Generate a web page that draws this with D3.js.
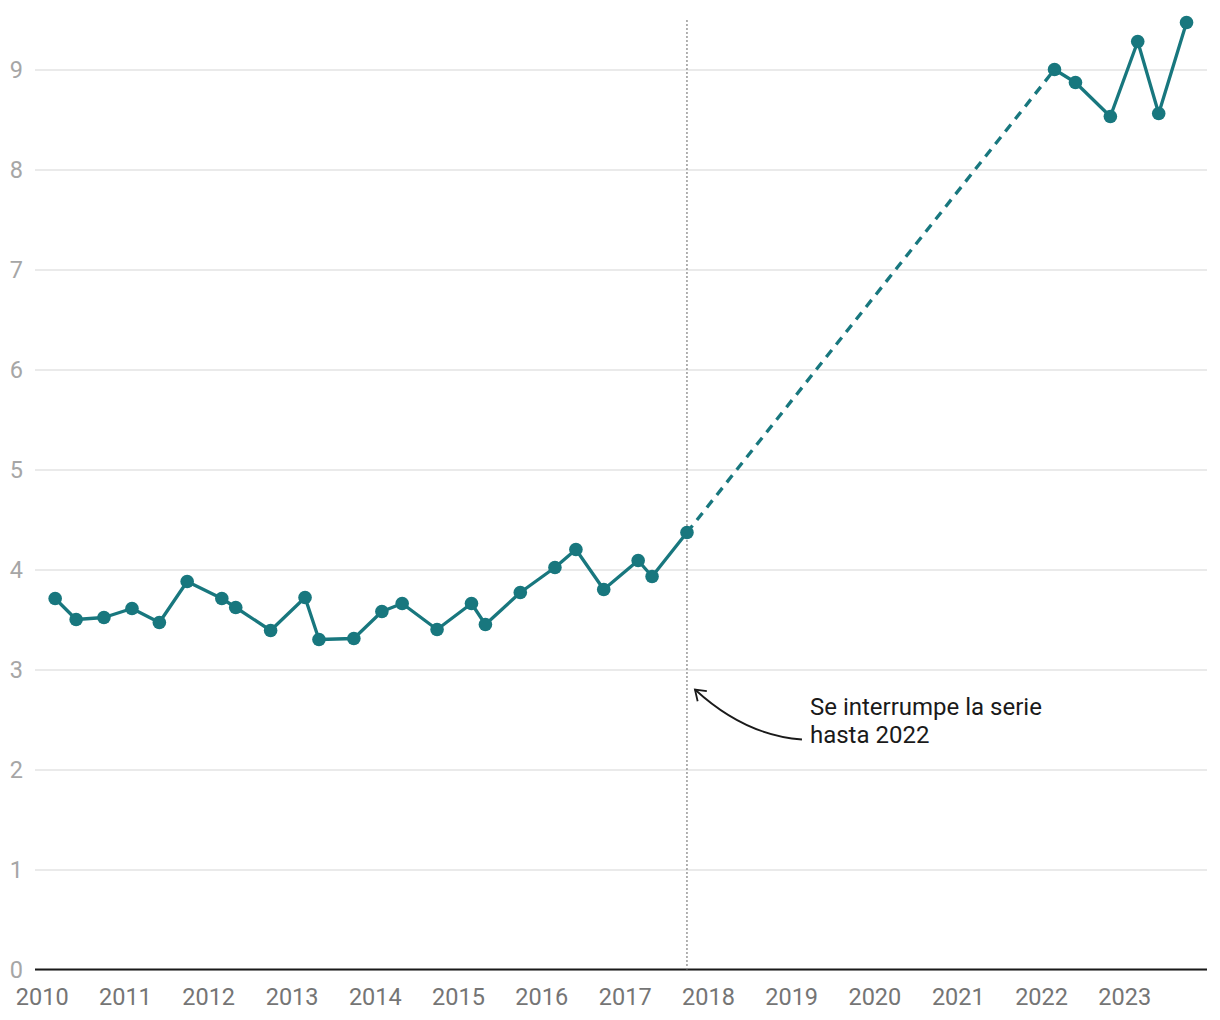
<!DOCTYPE html>
<html>
<head>
<meta charset="utf-8">
<script src="https://cdn.jsdelivr.net/npm/d3@7"></script>
<style>
  html, body { margin: 0; padding: 0; background: #fff; }
  svg { display: block; font-family: Roboto, "Noto Sans", sans-serif; }
</style>
</head>
<body>
<svg id="chart" width="1220" height="1020"></svg>
<script>
// ---- data ----
const dates = [
  "2010-03-01","2010-06-01","2010-10-01",
  "2011-02-01","2011-06-01","2011-10-01",
  "2012-03-01","2012-05-01","2012-10-01",
  "2013-03-01","2013-05-01","2013-10-01",
  "2014-02-01","2014-05-01","2014-10-01",
  "2015-03-01","2015-05-01","2015-10-01",
  "2016-03-01","2016-06-01","2016-10-01",
  "2017-03-01","2017-05-01","2017-10-01",
  "2022-03-01","2022-06-01","2022-11-01",
  "2023-03-01","2023-06-01","2023-10-01"
];
const values = [
  3.71, 3.50, 3.52,
  3.61, 3.47, 3.88,
  3.71, 3.62, 3.39,
  3.72, 3.30, 3.31,
  3.58, 3.66, 3.40,
  3.66, 3.45, 3.77,
  4.02, 4.20, 3.80,
  4.09, 3.93, 4.37,
  9.00, 8.87, 8.53,
  9.28, 8.56, 9.47
];
const yTicks = [0,1,2,3,4,5,6,7,8,9];
const xTickYears = [2010,2011,2012,2013,2014,2015,2016,2017,2018,2019,2020,2021,2022,2023];
const breakDate = "2017-10-01";
const annotationLines = ["Se interrumpe la serie", "hasta 2022"];

// ---- setup ----
const svg = d3.select("#chart");
const left = 35, right = 1207;
const x = d3.scaleUtc()
  .domain([new Date(Date.UTC(2010,0,1)), new Date(Date.UTC(2024,0,1))])
  .range([41.7, 1207.5]);
const y = d3.scaleLinear().domain([0, 9]).range([969.5, 69.5]);

const data = dates.map((d, i) => ({ date: new Date(d + "T00:00:00Z"), value: values[i] }));
const teal = "#18777e";

// y axis with gridlines
const yAxis = d3.axisLeft(y)
  .tickValues(yTicks)
  .tickSize(right - left)
  .tickPadding(12)
  .tickFormat(d3.format("d"));
const gy = svg.append("g").attr("transform", `translate(${right},0)`).call(yAxis);
gy.select(".domain").remove();
gy.selectAll(".tick line").attr("stroke", "#e3e3e3").attr("stroke-width", 1.6);
gy.selectAll(".tick text")
  .attr("fill", "#a6a6a6")
  .attr("font-size", 23.5)
  .attr("font-family", "Roboto");

// x axis
const xAxis = d3.axisBottom(x)
  .tickValues(xTickYears.map(yr => new Date(Date.UTC(yr,0,1))))
  .tickSize(0)
  .tickPadding(19)
  .tickFormat(d3.utcFormat("%Y"));
const gx = svg.append("g").attr("transform", `translate(0,${y(0)})`).call(xAxis);
gx.select(".domain").remove();
gx.selectAll(".tick text")
  .attr("fill", "#757575")
  .attr("font-size", 23.5)
  .attr("font-family", "Roboto");

// baseline
svg.append("line")
  .attr("x1", left).attr("x2", right)
  .attr("y1", y(0)).attr("y2", y(0))
  .attr("stroke", "#1a1a1a").attr("stroke-width", 2);

// break line (dotted vertical)
const bx = x(new Date(breakDate + "T00:00:00Z"));
svg.append("line")
  .attr("x1", bx).attr("x2", bx)
  .attr("y1", 20).attr("y2", y(0))
  .attr("stroke", "#8a8a8a").attr("stroke-width", 1.3)
  .attr("stroke-dasharray", "2,2");

// lines
const line = d3.line().x(d => x(d.date)).y(d => y(d.value));
const breakIdx = dates.indexOf(breakDate);
const seg1 = data.slice(0, breakIdx + 1);
const segGap = data.slice(breakIdx, breakIdx + 2);
const seg2 = data.slice(breakIdx + 1);

svg.append("path").datum(segGap).attr("d", line)
  .attr("fill", "none").attr("stroke", teal).attr("stroke-width", 3.3)
  .attr("stroke-dasharray", "9,7");
[seg1, seg2].forEach(s => {
  svg.append("path").datum(s).attr("d", line)
    .attr("fill", "none").attr("stroke", teal).attr("stroke-width", 3.3)
    .attr("stroke-linejoin", "round");
});

svg.append("g").selectAll("circle").data(data).join("circle")
  .attr("cx", d => x(d.date)).attr("cy", d => y(d.value))
  .attr("r", 6.8).attr("fill", teal);

// annotation
const tipX = bx + 8, tipY = y(2.8);
const sx = bx + 115, sy = tipY + 50;
const cx = bx + 58, cy = tipY + 46;
svg.append("path")
  .attr("d", `M${sx},${sy} Q${cx},${cy} ${tipX},${tipY}`)
  .attr("fill", "none").attr("stroke", "#1a1a1a").attr("stroke-width", 1.8);
// arrowhead
const ang = Math.atan2(tipY - cy, tipX - cx);
const ah = 12, spread = 0.6;
svg.append("path")
  .attr("d", `M${tipX - ah*Math.cos(ang - spread)},${tipY - ah*Math.sin(ang - spread)} L${tipX},${tipY} L${tipX - ah*Math.cos(ang + spread)},${tipY - ah*Math.sin(ang + spread)}`)
  .attr("fill", "none").attr("stroke", "#1a1a1a").attr("stroke-width", 1.8)
  .attr("stroke-linejoin", "miter");

const at = svg.append("text")
  .attr("x", bx + 123).attr("y", tipY + 25)
  .attr("fill", "#1a1a1a").attr("font-size", 24).attr("font-family", "Roboto");
annotationLines.forEach((t, i) => {
  at.append("tspan").attr("x", bx + 123).attr("dy", i === 0 ? 0 : 28.5).text(t);
});
</script>
</body>
</html>
